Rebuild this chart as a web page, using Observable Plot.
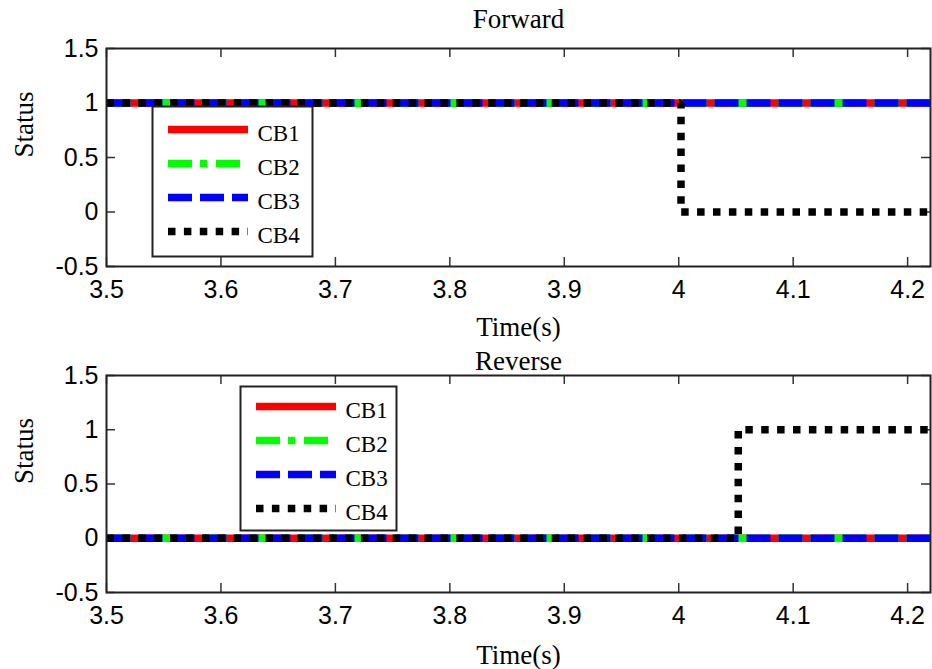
<!DOCTYPE html>
<html><head><meta charset="utf-8">
<script src="https://cdn.jsdelivr.net/npm/d3@7"></script>
<script src="https://cdn.jsdelivr.net/npm/@observablehq/plot@0.6"></script>
<style>
html,body{margin:0;padding:0;background:#fff;}
#chart{position:relative;width:932px;height:669px;overflow:hidden;}
#chart > svg{display:block}
.legend{position:absolute}
</style></head><body><div id="chart"></div>
<script>
// ---- data ----
const seriesNames = ["CB1", "CB2", "CB3", "CB4"];
const seriesColors = ["#ff0000", "#00ff00", "#0000ff", "#000000"];
const seriesDash = [null, "24,8,7,9", "24,8", "7.5,8.4"];

const fwdTimes = [3.5, 4.002, 4.002, 4.22];
const fwdCB1 = [1, 1, 1, 1];
const fwdCB2 = [1, 1, 1, 1];
const fwdCB3 = [1, 1, 1, 1];
const fwdCB4 = [1, 1, 0, 0];

const revTimes = [3.5, 4.052, 4.052, 4.22];
const revCB1 = [0, 0, 0, 0];
const revCB2 = [0, 0, 0, 0];
const revCB3 = [0, 0, 0, 0];
const revCB4 = [0, 0, 1, 1];

const xTicks = [3.5, 3.6, 3.7, 3.8, 3.9, 4, 4.1, 4.2];
const xTickLabels = ["3.5", "3.6", "3.7", "3.8", "3.9", "4", "4.1", "4.2"];
const yTicks = [-0.5, 0, 0.5, 1, 1.5];
const yTickLabels = ["-0.5", "0", "0.5", "1", "1.5"];
const xDomain = [3.5, 4.22];
const yDomain = [-0.5, 1.5];

const panelTitles = ["Forward", "Reverse"];
const xLabel = "Time(s)";
const yLabel = "Status";

// ---- drawing ----
const serif = "'Liberation Serif', 'Times New Roman', Times, serif";
const sans = "'Liberation Sans', Arial, Helvetica, sans-serif";
const W = 932, ML = 106, MR = 2;
const FW = W - ML - MR;

function buildRows(times, values) {
  return seriesNames.map((name, s) => times.map((t, i) => ({t, v: values[s][i], name})));
}

function panel({title, rows, height, marginTop, marginBottom, titleDy, labelDy}) {
  const FH = height - marginTop - marginBottom;
  const tick = 9;
  const tickStyle = {stroke: "#333", strokeWidth: 1.5};
  return Plot.plot({
    width: W, height, marginLeft: ML, marginRight: MR, marginTop, marginBottom,
    x: {domain: xDomain, axis: null},
    y: {domain: yDomain, axis: null},
    style: {fontFamily: sans, fontSize: "25px", background: "white", overflow: "visible", color: "black"},
    marks: [
      Plot.tickY(yTicks, {y: d => d, insetRight: FW - tick, ...tickStyle}),
      Plot.tickY(yTicks, {y: d => d, insetLeft: FW - tick, ...tickStyle}),
      Plot.tickX(xTicks, {x: d => d, insetBottom: FH - tick, ...tickStyle}),
      Plot.tickX(xTicks, {x: d => d, insetTop: FH - tick, ...tickStyle}),
      ...rows.map((r, s) => Plot.line(r, {
        x: "t", y: "v", stroke: seriesColors[s], strokeWidth: 7.5,
        strokeDasharray: seriesDash[s], strokeLinecap: "butt", strokeLinejoin: "miter"
      })),
      Plot.frame({stroke: "#222", strokeWidth: 2}),
      Plot.axisX(xTicks, {tickSize: 0, tickPadding: 14, label: null, fontSize: 25,
        tickFormat: d => xTickLabels[xTicks.indexOf(d)]}),
      Plot.axisY(yTicks, {anchor: "left", tickSize: 0, tickPadding: 8, label: null, fontSize: 25,
        tickFormat: d => yTickLabels[yTicks.indexOf(d)]}),
      Plot.text([title], {text: d => d, frameAnchor: "top", dy: titleDy, fontFamily: serif, fontSize: 27, lineAnchor: "middle"}),
      Plot.text([xLabel], {text: d => d, frameAnchor: "bottom", dy: labelDy, fontFamily: serif, fontSize: 27, lineAnchor: "middle"}),
      Plot.text([yLabel], {text: d => d, frameAnchor: "left", dx: -82, rotate: -90, fontFamily: serif, fontSize: 27, lineAnchor: "middle"})
    ]
  });
}

function legend({width, height, rowRange}) {
  const svg = Plot.plot({
    width, height, margin: 0,
    x: {domain: [0, 1], range: [16, 96], axis: null},
    y: {type: "point", domain: seriesNames, range: rowRange, padding: 0, align: 0.5, axis: null},
    style: {overflow: "visible", background: "transparent"},
    marks: [
      Plot.frame({fill: "white", stroke: "#222", strokeWidth: 2}),
      ...seriesNames.map((name, s) => Plot.ruleY([name], {
        y: d => d, x1: 0, x2: 1, stroke: seriesColors[s], strokeWidth: 7.5,
        strokeDasharray: seriesDash[s], strokeLinecap: "butt"
      })),
      Plot.text(seriesNames, {x: 1, y: d => d, text: d => d, dx: 9, dy: 4, textAnchor: "start",
        fontFamily: serif, fontSize: 23, lineAnchor: "middle"})
    ]
  });
  svg.classList.add("legend");
  return svg;
}

const chart = document.getElementById("chart");
chart.append(panel({
  title: panelTitles[0], rows: buildRows(fwdTimes, [fwdCB1, fwdCB2, fwdCB3, fwdCB4]),
  height: 340, marginTop: 48, marginBottom: 74, titleDy: -29, labelDy: 61
}));
chart.append(panel({
  title: panelTitles[1], rows: buildRows(revTimes, [revCB1, revCB2, revCB3, revCB4]),
  height: 329, marginTop: 35, marginBottom: 77, titleDy: -14, labelDy: 63
}));
const lg1 = legend({width: 160, height: 150, rowRange: [22, 125]});
lg1.style.left = "152px"; lg1.style.top = "106px";
const lg2 = legend({width: 156, height: 144, rowRange: [20, 122]});
lg2.style.left = "240px"; lg2.style.top = "386px";
chart.append(lg1, lg2);
</script></body></html>
